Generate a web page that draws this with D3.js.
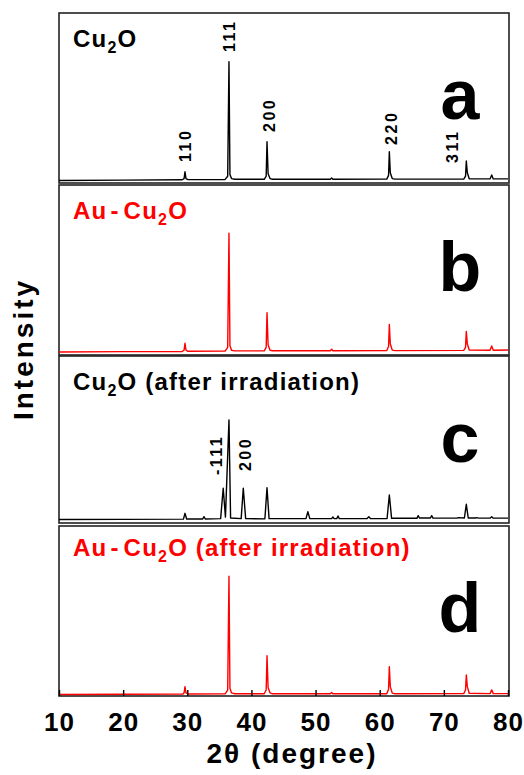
<!DOCTYPE html>
<html>
<head>
<meta charset="utf-8">
<script src="https://cdn.jsdelivr.net/npm/d3@7"></script>
<style>
body { margin: 0; background: #fff; }
text { font-family: "Liberation Sans", Arial, sans-serif; font-weight: bold; }
</style>
</head>
<body>
<script>
var w = 524;
var h = 775;

// [2theta, intensity], intensity in % of panel height
var cu2o = [[10,1.5],[20,1.7],[29.2,1.9],[29.5,2.6],[29.64,6.6],[29.8,2.6],[30.1,2.0],
    [35.9,2.1],[36.3,4.0],[36.5,71.4],[36.65,5.0],[36.9,2.6],[37.4,2.2],
    [42.0,2.2],[42.3,4.0],[42.43,24.3],[42.6,5.5],[42.9,2.6],[43.3,2.2],
    [52.3,2.2],[52.5,2.9],[52.7,2.2],
    [61.1,2.3],[61.38,4.5],[61.5,18.4],[61.65,6.0],[61.95,2.6],[62.4,2.3],
    [73.1,2.3],[73.38,4.0],[73.5,12.9],[73.66,6.0],[73.95,2.5],
    [77.2,2.4],[77.46,4.7],[77.7,2.4],[80,2.4]];

var auCu2o = [[10,1.8],[20,2.0],[29.2,2.1],[29.5,2.8],[29.64,6.9],[29.8,2.8],[30.1,2.2],
    [35.9,2.3],[36.3,4.5],[36.5,71.6],[36.65,5.5],[36.9,2.8],[37.4,2.4],
    [42.0,2.4],[42.3,4.5],[42.43,24.9],[42.6,6.0],[42.9,2.8],[43.3,2.5],
    [52.3,2.5],[52.5,3.4],[52.7,2.5],
    [61.1,2.6],[61.38,5.0],[61.5,18.0],[61.65,6.5],[61.95,2.9],[62.4,2.6],
    [73.1,2.7],[73.38,4.5],[73.5,13.9],[73.66,6.5],[73.95,2.9],
    [77.2,2.8],[77.46,5.3],[77.7,2.8],[80,2.9]];

var cu2oIrr = [[10,2.1],[20,2.2],[29.4,2.3],[29.64,5.8],[29.9,2.4],
    [32.4,2.4],[32.6,3.8],[32.8,2.4],
    [35.2,2.6],[35.6,20.8],[35.95,3.5],[36.5,61.7],[36.75,3.0],
    [38.4,2.6],[38.73,20.8],[39.1,2.6],
    [42.1,2.5],[42.43,21.1],[42.75,2.6],
    [48.5,2.6],[48.8,6.8],[49.1,2.6],
    [52.5,2.6],[52.7,3.6],[52.9,2.6],[53.3,2.6],[53.5,4.2],[53.7,2.6],
    [58.0,2.6],[58.3,3.8],[58.6,2.6],
    [61.15,2.7],[61.5,16.8],[61.85,2.8],
    [65.8,2.8],[66.0,4.4],[66.2,3.0],[67.9,3.0],[68.1,4.4],[68.3,2.9],
    [72.05,2.9],[72.25,3.2],[73.2,3.0],[73.5,11.2],[73.8,3.0],
    [74.9,3.0],[75.1,3.2],[75.4,2.9],
    [77.2,2.9],[77.46,3.8],[77.7,2.9],[80,2.9]];

var auCu2oIrr = [[10,0.9],[20,1.0],[29.3,1.1],[29.5,1.8],[29.64,5.5],[29.8,1.8],[30.1,1.2],
    [35.9,1.3],[36.3,3.5],[36.5,70.4],[36.65,4.5],[36.9,1.8],[37.4,1.3],
    [42.0,1.3],[42.3,3.5],[42.43,23.7],[42.6,5.0],[42.9,1.8],[43.3,1.3],
    [52.3,1.3],[52.5,2.0],[52.7,1.3],
    [61.1,1.3],[61.38,4.0],[61.5,17.3],[61.65,5.5],[61.95,1.7],[62.4,1.3],
    [73.1,1.4],[73.38,3.5],[73.5,12.4],[73.66,5.5],[73.95,1.6],
    [77.2,1.4],[77.46,3.6],[77.7,1.4],[80,1.4]];

var xTicks = [10, 20, 30, 40, 50, 60, 70, 80];

var panelLetters = ["a", "b", "c", "d"];
var panelColors = ["#000", "#ff0000", "#000", "#ff0000"];
var labelPre = ["Cu", "Au-Cu", "Cu", "Au-Cu"];
var labelPost = ["O", "O", "O (after irradiation)", "O (after irradiation)"];

// hkl annotations: [text, 2theta, intensity where the text starts]
var hklA = [["110", 30.53, 12.4], ["111", 37.44, 77.1], ["200", 43.68, 30],
    ["220", 62.7, 22.4], ["311", 72.2, 11.8]];
var hklC = [["-111", 35.41, 28.7], ["200", 39.93, 31.1]];

var series = [cu2o, auCu2o, cu2oIrr, auCu2oIrr];
var hklSets = [hklA, [], hklC, []];

var left = 59, right = 508;
var panelTop = [13, 185, 356, 526];
var panelH = [170, 170, 167, 170];

var svg = d3.select("body")
    .append("svg")
    .attr("width", w)
    .attr("height", h);

var x = d3.scaleLinear().domain([10, 80]).range([left, right]);

series.forEach(function(data, i) {
    var top = panelTop[i];
    var y = d3.scaleLinear().domain([0, 100]).range([top + panelH[i], top]);
    var g = svg.append("g");

    g.append("rect")
        .attr("x", left)
        .attr("y", top)
        .attr("width", right - left + 1)
        .attr("height", panelH[i])
        .attr("fill", "none")
        .attr("stroke", "#222")
        .attr("stroke-width", 1.6);

    g.append("path")
        .datum(data)
        .attr("fill", "none")
        .attr("stroke", panelColors[i])
        .attr("stroke-width", 1.4)
        .attr("stroke-linejoin", "round")
        .attr("d", d3.line()
            .x(function(d) { return x(d[0]); })
            .y(function(d) { return y(d[1]); }));

    var lab = g.append("text")
        .attr("x", 73)
        .attr("y", top + (i == 3 ? 30 : 34))
        .attr("font-size", "24px")
        .attr("letter-spacing", 1.2)
        .attr("fill", panelColors[i]);
    if (labelPre[i] == "Au-Cu") {
        lab.append("tspan").text("Au");
        lab.append("tspan").attr("dx", 3).text("-");
        lab.append("tspan").attr("dx", 4).text("Cu");
    } else {
        lab.append("tspan").text(labelPre[i]);
    }
    lab.append("tspan").attr("font-size", "16px").attr("dy", 6).text("2");
    lab.append("tspan").attr("dy", -6).text(labelPost[i]);

    g.append("text")
        .attr("x", 460)
        .attr("y", top + 106)
        .attr("text-anchor", "middle")
        .attr("font-size", "70px")
        .attr("fill", "#000")
        .text(panelLetters[i]);

    g.selectAll(".hkl")
        .data(hklSets[i])
        .enter()
        .append("text")
        .attr("font-size", "16px")
        .attr("letter-spacing", 2.5)
        .attr("fill", "#000")
        .attr("transform", function(d) {
            return "translate(" + x(d[1]) + "," + y(d[2]) + ") rotate(-90)";
        })
        .text(function(d) { return d[0]; });
});

// bottom axis on the last panel
var axisY = panelTop[3] + panelH[3];
var axis = svg.append("g")
    .attr("transform", "translate(0," + axisY + ")")
    .call(d3.axisBottom(x)
        .tickValues(xTicks)
        .tickSizeInner(-6)
        .tickSizeOuter(0)
        .tickPadding(17));
axis.select(".domain").remove();
axis.selectAll("line").attr("stroke", "#000").attr("stroke-width", 1.4);
axis.selectAll("text")
    .attr("font-size", "26px")
    .attr("font-family", "'Liberation Sans', Arial, sans-serif")
    .attr("font-weight", "bold")
    .attr("letter-spacing", 1)
    .attr("fill", "#000");

svg.append("text")
    .attr("x", 292)
    .attr("y", 763)
    .attr("text-anchor", "middle")
    .attr("font-size", "28px")
    .attr("letter-spacing", 2)
    .text("2\u03b8 (degree)");

svg.append("text")
    .attr("transform", "translate(33,349) rotate(-90)")
    .attr("text-anchor", "middle")
    .attr("font-size", "28px")
    .attr("letter-spacing", 3)
    .text("Intensity");
</script>
</body>
</html>
